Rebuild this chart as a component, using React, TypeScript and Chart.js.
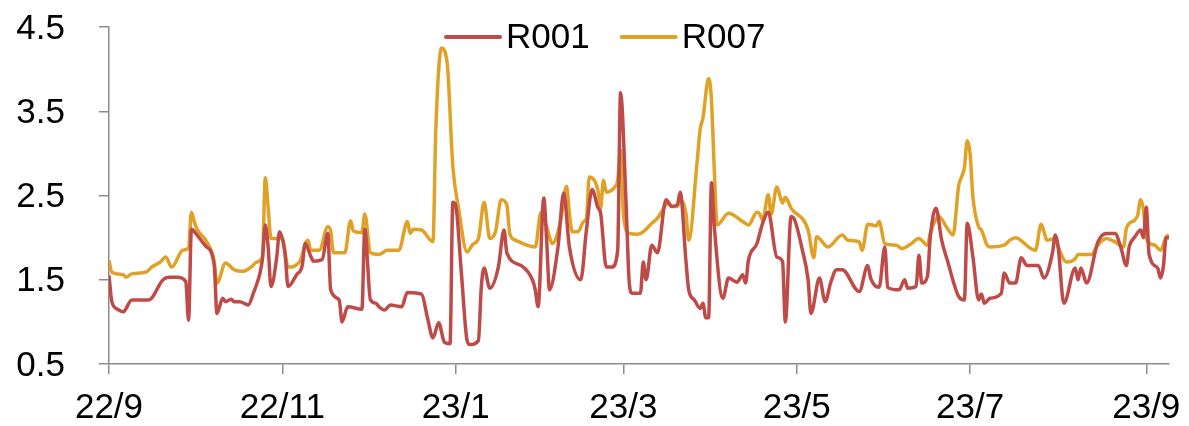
import React, { useEffect, useRef } from "react";
import { Chart, registerables } from "chart.js";

Chart.register(...registerables);

// x values are day offsets counted from 2022-09-01 (day 0)
const xTickDays = [0, 61, 122, 181, 242, 303, 365];
const xTickLabels = ["22/9", "22/11", "23/1", "23/3", "23/5", "23/7", "23/9"];
const yTickValues = [0.5, 1.5, 2.5, 3.5, 4.5];
const seriesNames = ["R001", "R007"];

const r001Days = [
  0, 1, 3, 5, 8, 14, 19, 21, 24, 27, 28, 29, 31, 34, 37, 38, 40, 41, 43, 44, 46, 49, 51, 52, 53, 54, 55, 56, 57, 59,
  60, 62, 63, 66, 68, 69, 71, 72, 75, 77, 78, 81, 82, 84, 89, 90, 92, 94, 95, 97, 99, 103, 105, 110, 112, 114, 116,
  118, 120, 121, 122, 124, 126, 127, 130, 131, 132, 134, 137, 139, 140, 145, 149, 150, 151, 153, 154, 155, 158, 160,
  162, 166, 168, 170, 172, 173, 175, 177, 179, 180, 182, 183, 184, 187, 188, 189, 191, 193, 196, 198, 200, 201, 203,
  204, 206, 208, 209, 210, 211, 212, 213, 216, 218, 221, 223, 224, 225, 228, 230, 232, 235, 237, 238, 240, 241, 244,
  246, 247, 250, 252, 254, 256, 258, 264, 267, 268, 271, 273, 274, 278, 280, 281, 284, 285, 286, 288, 289, 291, 293,
  295, 299, 301, 302, 304, 306, 307, 308, 310, 314, 315, 317, 319, 321, 323, 327, 329, 332, 333, 334, 336, 340, 341,
  342, 344, 348, 351, 354, 356, 358, 359, 361, 363, 364, 365, 366, 369, 370, 371, 372, 373,
];
const r001Values = [
  1.55, 1.24, 1.15, 1.12, 1.26, 1.26, 1.5, 1.53, 1.53, 1.48, 1.02, 2.1, 2.03, 1.9, 1.68, 1.1, 1.28, 1.24, 1.27, 1.24,
  1.24, 1.2, 1.36, 1.45, 1.56, 1.75, 2.15, 1.89, 1.42, 1.76, 2.07, 1.79, 1.42, 1.56, 1.67, 1.93, 1.78, 1.72, 1.74,
  2.05, 1.38, 1.26, 1.0, 1.18, 1.15, 2.1, 1.26, 1.22, 1.18, 1.14, 1.2, 1.18, 1.35, 1.33, 1.06, 0.81, 0.99, 0.76, 0.74,
  2.42, 2.38, 1.58, 0.78, 0.73, 0.78, 1.41, 1.64, 1.4, 1.65, 2.09, 1.82, 1.67, 1.5, 1.38, 1.18, 2.47, 1.97, 1.38, 1.89,
  2.53, 1.89, 1.5, 2.09, 2.57, 2.36, 2.29, 1.65, 1.65, 1.85, 3.72, 2.36, 1.5, 1.34, 1.34, 1.71, 1.5, 1.91, 1.82, 2.45,
  2.37, 2.39, 2.54, 1.73, 1.38, 1.26, 1.16, 1.22, 1.05, 1.05, 2.65, 2.13, 1.28, 1.52, 1.47, 1.56, 1.46, 1.73, 1.93,
  2.17, 2.3, 1.77, 1.72, 1.0, 2.25, 2.23, 1.85, 1.5, 1.1, 1.52, 1.24, 1.47, 1.62, 1.62, 1.36, 1.67, 1.52, 1.41, 1.89,
  1.41, 1.38, 1.5, 1.4, 1.42, 1.79, 1.46, 1.54, 2.01, 2.35, 1.97, 1.73, 1.3, 1.26, 2.17, 1.77, 1.26, 1.33, 1.22, 1.28,
  1.34, 1.58, 1.46, 1.46, 1.76, 1.67, 1.67, 1.52, 1.82, 2.03, 1.89, 1.22, 1.64, 1.5, 1.64, 1.46, 1.95, 2.05, 2.05,
  1.89, 1.67, 1.89, 2.01, 2.09, 2.0, 2.36, 1.8, 1.64, 1.52, 1.65, 2.0, 2.0,
];

const r007Days = [
  0, 1, 5, 6, 8, 13, 15, 18, 20, 22, 26, 28, 29, 30, 31, 34, 37, 38, 41, 44, 47, 50, 52, 54, 55, 56, 57, 61, 63, 67,
  70, 71, 74, 77, 78, 79, 83, 85, 86, 89, 90, 92, 95, 98, 102, 105, 106, 107, 110, 114, 115, 117, 119, 121, 123, 126,
  128, 130, 132, 134, 136, 138, 140, 141, 143, 150, 152, 154, 156, 159, 161, 162, 163, 165, 167, 168, 169, 172, 173,
  174, 175, 178, 179, 180, 181, 183, 186, 188, 191, 193, 197, 198, 200, 201, 203, 204, 207, 208, 209, 211, 212, 213,
  214, 218, 223, 225, 228, 229, 230, 232, 233, 235, 237, 238, 240, 246, 248, 249, 253, 258, 260, 264, 265, 267, 270,
  271, 273, 277, 279, 282, 285, 288, 289, 292, 295, 297, 299, 300, 301, 302, 303, 304, 306, 307, 309, 310, 315, 317,
  319, 324, 326, 328, 329, 330, 333, 334, 337, 340, 341, 346, 347, 349, 351, 354, 357, 358, 361, 362, 363, 364, 365,
  368, 370, 372, 373,
];
const r007Values = [
  1.73, 1.59, 1.56, 1.53, 1.57, 1.59, 1.65, 1.71, 1.77, 1.65, 1.85, 1.88, 2.3, 2.19, 2.1, 1.97, 1.72, 1.46, 1.7, 1.62,
  1.6, 1.65, 1.71, 1.77, 2.71, 2.36, 1.99, 1.99, 1.65, 1.71, 1.97, 1.85, 1.85, 2.13, 2.08, 1.82, 1.82, 2.2, 2.08, 2.06,
  2.28, 1.82, 1.8, 1.85, 1.85, 2.19, 2.05, 2.1, 2.09, 1.95, 3.28, 4.25, 4.07, 2.84, 2.35, 1.83, 1.92, 1.99, 2.42, 1.99,
  2.07, 2.45, 2.39, 2.05, 1.97, 1.89, 2.3, 2.13, 1.93, 2.21, 2.61, 2.29, 2.07, 2.07, 2.19, 2.23, 2.72, 2.57, 2.35,
  2.68, 2.54, 2.6, 2.68, 3.04, 2.29, 2.05, 2.04, 2.07, 2.17, 2.23, 2.41, 2.37, 2.37, 2.45, 2.29, 1.97, 2.92, 3.28,
  3.42, 3.89, 3.63, 2.8, 2.15, 2.29, 2.19, 2.15, 2.3, 2.28, 2.21, 2.51, 2.28, 2.6, 2.41, 2.48, 2.35, 2.09, 1.76, 2.01,
  1.89, 2.03, 1.97, 1.95, 1.85, 2.16, 2.14, 2.19, 1.93, 1.91, 1.87, 1.92, 1.99, 1.91, 2.05, 2.25, 2.11, 2.03, 2.62,
  2.72, 2.83, 3.15, 3.0, 2.48, 2.13, 2.09, 1.91, 1.89, 1.91, 1.97, 2.0, 1.88, 1.85, 2.16, 2.07, 1.97, 1.99, 1.89, 1.71,
  1.75, 1.8, 1.8, 1.86, 1.95, 1.99, 1.95, 1.89, 2.11, 2.21, 2.27, 2.45, 2.33, 1.99, 1.91, 1.85, 2.01, 2.03,
];

const FONT_FAMILY = '"Liberation Sans", Arial, Helvetica, sans-serif';
const AXIS_COLOR = "#8c8c8c";
const R001_COLOR = "#BE4B48";
const R007_COLOR = "#E0A226";

// Draws the tick labels (Excel-like spacing) and the in-plot legend.
const labelsPlugin = {
  id: "excelLabels",
  afterDraw(chart: any) {
    const { ctx, chartArea } = chart;
    const xScale = chart.scales.x;
    const yScale = chart.scales.y;
    ctx.save();
    ctx.fillStyle = "#000";

    // y tick labels
    ctx.font = `35px ${FONT_FAMILY}`;
    ctx.textAlign = "right";
    ctx.textBaseline = "middle";
    yTickValues.forEach((v) => {
      ctx.fillText(v.toFixed(1), chartArea.left - 44, yScale.getPixelForValue(v) + 2);
    });

    // x tick labels
    ctx.textAlign = "center";
    xTickDays.forEach((d, i) => {
      ctx.fillText(xTickLabels[i], xScale.getPixelForValue(d), chartArea.bottom + 44);
    });

    // legend
    const startX = 446;
    const y = 37;
    ctx.textAlign = "left";
    let x = startX;
    chart.data.datasets.forEach((ds: any) => {
      ctx.strokeStyle = ds.borderColor;
      ctx.lineWidth = 4;
      ctx.lineCap = "round";
      ctx.beginPath();
      ctx.moveTo(x, y);
      ctx.lineTo(x + 54, y);
      ctx.stroke();
      ctx.fillText(ds.label, x + 60, y + 1);
      x += 60 + ctx.measureText(ds.label).width + 32;
    });
    ctx.restore();
  },
};

export default function App() {
  const canvasRef = useRef<HTMLCanvasElement | null>(null);

  useEffect(() => {
    document.body.style.margin = "0";
    const canvas = canvasRef.current;
    if (!canvas) return;
    const chart = new Chart(canvas, {
      type: "line",
      data: {
        datasets: [
          {
            label: seriesNames[0],
            data: r001Days.map((d, i) => ({ x: d, y: r001Values[i] })),
            borderColor: R001_COLOR,
            backgroundColor: R001_COLOR,
            borderWidth: 3.5,
            pointRadius: 0,
            cubicInterpolationMode: "monotone",
            fill: false,
          },
          {
            label: seriesNames[1],
            data: r007Days.map((d, i) => ({ x: d, y: r007Values[i] })),
            borderColor: R007_COLOR,
            backgroundColor: R007_COLOR,
            borderWidth: 3.5,
            pointRadius: 0,
            cubicInterpolationMode: "monotone",
            fill: false,
          },
        ],
      },
      options: {
        animation: false,
        responsive: true,
        maintainAspectRatio: false,
        layout: { padding: { left: 99, right: 20, top: 27, bottom: 52 } },
        plugins: {
          legend: { display: false },
          tooltip: { enabled: false },
        },
        scales: {
          x: {
            type: "linear",
            min: 0,
            max: 373,
            afterBuildTicks: (scale: any) => {
              scale.ticks = xTickDays.map((v) => ({ value: v }));
            },
            ticks: { display: false },
            grid: {
              drawOnChartArea: false,
              drawTicks: true,
              tickLength: 10,
              color: AXIS_COLOR,
              lineWidth: 1.5,
            },
            border: { display: true, color: AXIS_COLOR, width: 1.5 },
          },
          y: {
            type: "linear",
            min: 0.5,
            max: 4.5,
            afterBuildTicks: (scale: any) => {
              scale.ticks = yTickValues.map((v) => ({ value: v }));
            },
            ticks: { display: false },
            grid: {
              drawOnChartArea: false,
              drawTicks: true,
              tickLength: 10,
              color: AXIS_COLOR,
              lineWidth: 1.5,
            },
            border: { display: true, color: AXIS_COLOR, width: 1.5 },
          },
        },
      },
      plugins: [labelsPlugin],
    });
    return () => chart.destroy();
  }, []);

  return (
    <div style={{ position: "relative", width: "1189px", height: "426px" }}>
      <canvas ref={canvasRef} />
    </div>
  );
}
